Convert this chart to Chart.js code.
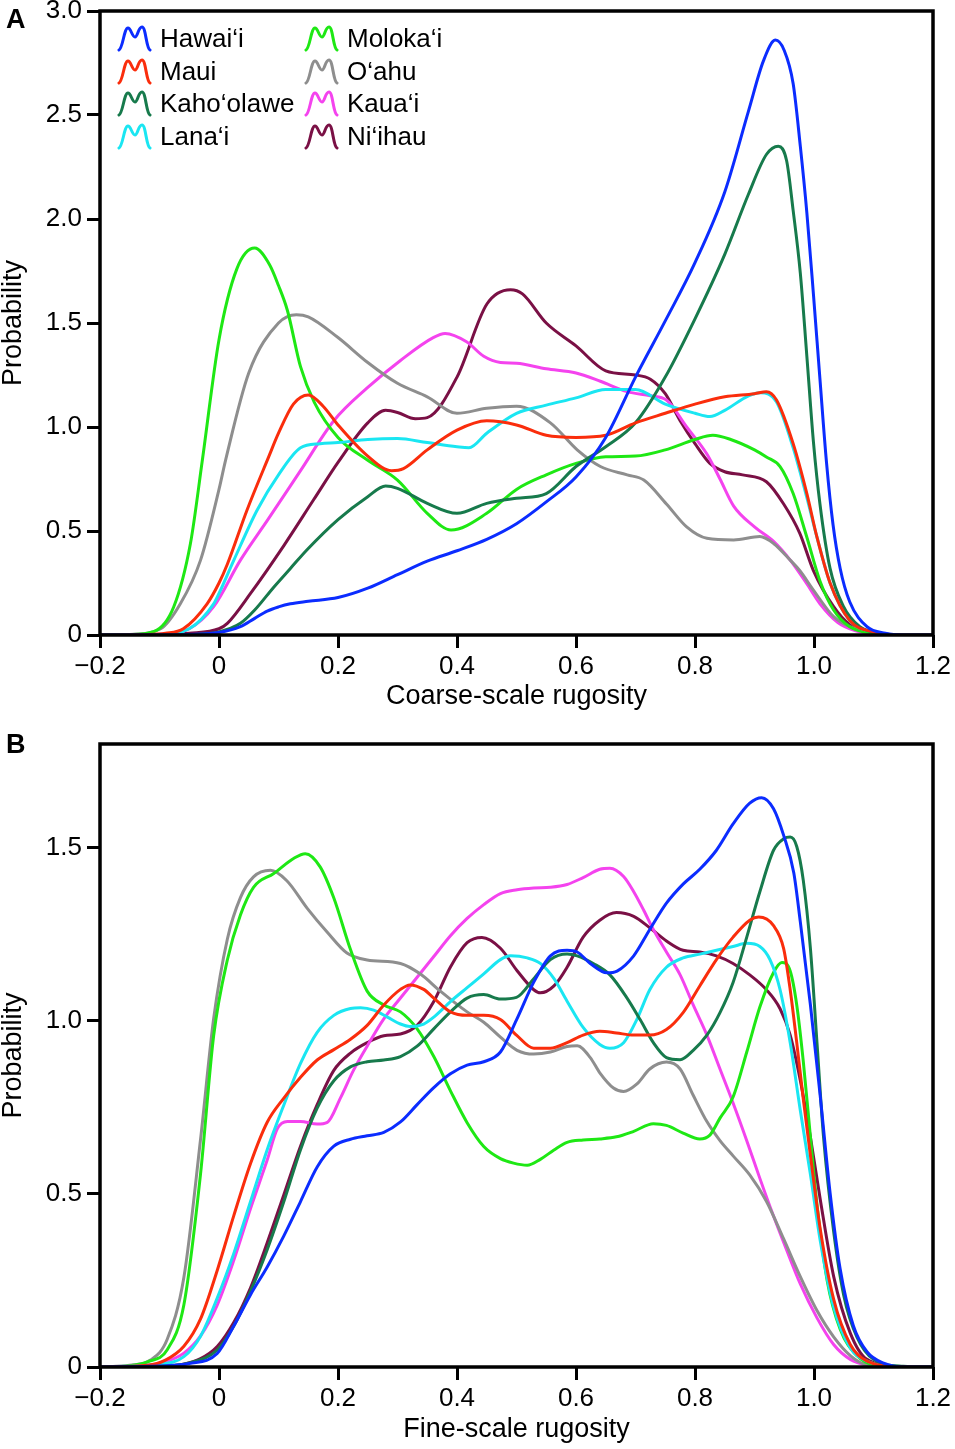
<!DOCTYPE html>
<html>
<head>
<meta charset="utf-8">
<script src="https://cdn.jsdelivr.net/npm/chart.js@4.4.1/dist/chart.umd.min.js"></script>
<style>
  html, body { margin: 0; padding: 0; background: #fff; }
  #page { position: relative; width: 955px; height: 1449px; overflow: hidden; background: #fff; font-family: "Liberation Sans", Arial, sans-serif; }
  canvas { position: absolute; left: 0; }
  .panel { position: absolute; font-weight: bold; font-size: 27px; line-height: 27px; color: #000; }
  .leg { position: absolute; display: flex; align-items: center; height: 30px; font-size: 26px; color: #000; white-space: nowrap; }
  .leg svg { margin-right: 8px; }
</style>
</head>
<body>
<div id="page">
  <canvas id="chartA" width="955" height="725" style="top:0px;width:955px;height:725px"></canvas>
  <canvas id="chartB" width="955" height="724" style="top:725px;width:955px;height:724px"></canvas>
  <div class="panel" style="left:6px;top:6px">A</div>
  <div class="panel" style="left:6px;top:731px">B</div>
  <div id="legend"></div>
</div>
<script>
// ---------- labels ----------
const islands = ['Hawai\u2018i', 'Maui', 'Kaho\u2018olawe', 'Lana\u2018i', 'Moloka\u2018i', 'O\u2018ahu', 'Kaua\u2018i', 'Ni\u2018ihau'];
const xTickValues = [-0.2, 0, 0.2, 0.4, 0.6, 0.8, 1.0, 1.2];
const xTickLabels = ['\u22120.2', '0', '0.2', '0.4', '0.6', '0.8', '1.0', '1.2'];
const yTickValuesA = [0, 0.5, 1.0, 1.5, 2.0, 2.5, 3.0];
const yTickLabelsA = ['0', '0.5', '1.0', '1.5', '2.0', '2.5', '3.0'];
const yTickValuesB = [0, 0.5, 1.0, 1.5];
const yTickLabelsB = ['0', '0.5', '1.0', '1.5'];
const xTitleA = 'Coarse-scale rugosity';
const xTitleB = 'Fine-scale rugosity';
const yTitle = 'Probability';

// ---------- panel A: coarse-scale rugosity, [x, probability] ----------
const coarseHawaii = [[-0.2,0],[-0.1,0],[-0.05,0.002],[0,0.012],[0.036,0.04],[0.06,0.08],[0.081,0.115],[0.1,0.135],[0.12,0.15],[0.15,0.162],[0.2,0.18],[0.25,0.225],[0.3,0.29],[0.35,0.355],[0.4,0.405],[0.45,0.46],[0.5,0.535],[0.55,0.64],[0.6,0.76],[0.65,0.95],[0.7,1.24],[0.75,1.51],[0.8,1.79],[0.85,2.13],[0.89,2.52],[0.915,2.76],[0.935,2.86],[0.95,2.81],[0.965,2.65],[0.977,2.35],[0.988,2.03],[0.999,1.64],[1.01,1.23],[1.021,0.83],[1.032,0.53],[1.044,0.32],[1.06,0.16],[1.089,0.04],[1.12,0.008],[1.15,0],[1.2,0]];
const coarseMaui = [[-0.2,0],[-0.12,0.002],[-0.09,0.008],[-0.06,0.03],[-0.02,0.15],[0,0.25],[0.014,0.34],[0.047,0.6],[0.084,0.86],[0.1,0.97],[0.125,1.11],[0.15,1.154],[0.175,1.1],[0.2,1.01],[0.25,0.86],[0.29,0.79],[0.31,0.8],[0.35,0.89],[0.4,0.985],[0.45,1.03],[0.5,1.01],[0.55,0.96],[0.6,0.95],[0.65,0.96],[0.7,1.02],[0.75,1.066],[0.8,1.11],[0.85,1.145],[0.9,1.16],[0.92,1.17],[0.937,1.13],[0.965,0.92],[0.988,0.68],[1.005,0.47],[1.027,0.25],[1.06,0.07],[1.1,0.015],[1.15,0],[1.2,0]];
const coarseKahoolawe = [[-0.2,0],[-0.1,0],[-0.05,0.002],[0,0.015],[0.036,0.056],[0.06,0.12],[0.092,0.23],[0.12,0.32],[0.148,0.41],[0.2,0.555],[0.25,0.665],[0.28,0.716],[0.3,0.705],[0.35,0.633],[0.4,0.585],[0.45,0.633],[0.5,0.657],[0.55,0.68],[0.6,0.81],[0.65,0.905],[0.7,1.02],[0.75,1.24],[0.8,1.52],[0.85,1.83],[0.89,2.12],[0.92,2.31],[0.94,2.35],[0.954,2.28],[0.965,2.04],[0.977,1.74],[0.988,1.34],[0.999,0.93],[1.01,0.63],[1.027,0.32],[1.049,0.14],[1.077,0.04],[1.11,0.008],[1.15,0],[1.2,0]];
const coarseLanai = [[-0.2,0],[-0.1,0.003],[-0.05,0.03],[-0.009,0.15],[0,0.2],[0.025,0.36],[0.064,0.6],[0.1,0.77],[0.137,0.9],[0.17,0.92],[0.2,0.925],[0.25,0.94],[0.3,0.945],[0.35,0.925],[0.4,0.905],[0.42,0.9],[0.45,0.97],[0.5,1.066],[0.55,1.105],[0.6,1.14],[0.65,1.18],[0.7,1.18],[0.75,1.11],[0.8,1.066],[0.825,1.05],[0.85,1.08],[0.89,1.15],[0.91,1.165],[0.937,1.12],[0.965,0.9],[0.988,0.66],[1.005,0.47],[1.027,0.25],[1.06,0.07],[1.1,0.015],[1.15,0],[1.2,0]];
const coarseMolokai = [[-0.2,0],[-0.15,0.002],[-0.11,0.016],[-0.076,0.136],[-0.048,0.44],[-0.028,0.84],[0,1.42],[0.03,1.76],[0.06,1.86],[0.085,1.78],[0.1,1.68],[0.115,1.56],[0.137,1.29],[0.16,1.12],[0.2,0.95],[0.25,0.84],[0.3,0.745],[0.35,0.585],[0.39,0.505],[0.45,0.585],[0.5,0.7],[0.55,0.77],[0.6,0.825],[0.65,0.857],[0.7,0.86],[0.75,0.89],[0.8,0.94],[0.83,0.96],[0.86,0.94],[0.9,0.89],[0.92,0.856],[0.943,0.81],[0.965,0.68],[0.988,0.47],[1.01,0.26],[1.033,0.12],[1.06,0.04],[1.1,0.008],[1.15,0],[1.2,0]];
const coarseOahu = [[-0.2,0],[-0.15,0.003],[-0.098,0.03],[-0.065,0.15],[-0.031,0.36],[0,0.7],[0.011,0.84],[0.05,1.26],[0.1,1.5],[0.13,1.54],[0.15,1.53],[0.2,1.43],[0.25,1.31],[0.3,1.21],[0.35,1.145],[0.4,1.066],[0.45,1.09],[0.5,1.1],[0.557,1.02],[0.602,0.89],[0.641,0.81],[0.686,0.77],[0.714,0.745],[0.752,0.63],[0.786,0.52],[0.82,0.465],[0.865,0.457],[0.909,0.473],[0.932,0.44],[0.96,0.36],[0.976,0.31],[0.999,0.216],[1.033,0.088],[1.06,0.04],[1.1,0.008],[1.15,0],[1.2,0]];
const coarseKauai = [[-0.2,0],[-0.1,0.004],[-0.05,0.03],[-0.009,0.136],[0.036,0.36],[0.081,0.55],[0.137,0.79],[0.193,1.03],[0.25,1.19],[0.305,1.32],[0.36,1.43],[0.38,1.45],[0.416,1.41],[0.445,1.34],[0.473,1.31],[0.5,1.306],[0.55,1.28],[0.6,1.26],[0.641,1.22],[0.686,1.17],[0.725,1.15],[0.752,1.13],[0.786,1.0],[0.82,0.87],[0.842,0.75],[0.865,0.62],[0.9,0.52],[0.932,0.45],[0.96,0.36],[0.987,0.25],[1.01,0.15],[1.04,0.06],[1.07,0.02],[1.1,0.005],[1.15,0],[1.2,0]];
const coarseNiihau = [[-0.2,0],[-0.1,0.001],[-0.05,0.008],[0,0.03],[0.014,0.056],[0.053,0.2],[0.109,0.43],[0.159,0.65],[0.2,0.83],[0.25,1.02],[0.28,1.08],[0.3,1.07],[0.33,1.04],[0.35,1.045],[0.4,1.24],[0.45,1.59],[0.49,1.66],[0.51,1.64],[0.55,1.5],[0.6,1.39],[0.65,1.27],[0.7,1.25],[0.725,1.23],[0.75,1.16],[0.775,1.03],[0.8,0.92],[0.825,0.825],[0.85,0.785],[0.88,0.77],[0.92,0.737],[0.949,0.63],[0.976,0.49],[0.999,0.31],[1.033,0.136],[1.06,0.05],[1.1,0.01],[1.15,0],[1.2,0]];

// ---------- panel B: fine-scale rugosity, [x, probability] ----------
const fineHawaii = [[-0.2,0],[-0.1,0.003],[-0.05,0.01],[-0.003,0.039],[0.025,0.119],[0.053,0.209],[0.081,0.289],[0.109,0.379],[0.137,0.478],[0.165,0.578],[0.193,0.638],[0.221,0.658],[0.249,0.668],[0.277,0.678],[0.305,0.708],[0.333,0.758],[0.361,0.807],[0.389,0.847],[0.417,0.872],[0.445,0.882],[0.473,0.91],[0.5,1.003],[0.529,1.112],[0.557,1.188],[0.585,1.204],[0.602,1.199],[0.624,1.166],[0.652,1.139],[0.669,1.144],[0.697,1.188],[0.724,1.264],[0.752,1.34],[0.78,1.395],[0.808,1.438],[0.836,1.493],[0.864,1.569],[0.892,1.629],[0.912,1.645],[0.932,1.613],[0.949,1.536],[0.966,1.428],[0.977,1.286],[0.994,1.046],[1.011,0.774],[1.027,0.504],[1.044,0.283],[1.066,0.12],[1.089,0.044],[1.117,0.011],[1.15,0],[1.2,0]];
const fineMaui = [[-0.2,0],[-0.12,0.005],[-0.09,0.02],[-0.059,0.06],[-0.031,0.139],[-0.003,0.279],[0.025,0.438],[0.053,0.588],[0.081,0.707],[0.109,0.777],[0.137,0.837],[0.165,0.887],[0.193,0.917],[0.221,0.947],[0.249,0.987],[0.277,1.046],[0.305,1.091],[0.321,1.104],[0.344,1.091],[0.361,1.066],[0.389,1.026],[0.417,1.016],[0.445,1.016],[0.473,1.004],[0.5,0.959],[0.529,0.921],[0.557,0.921],[0.585,0.937],[0.612,0.959],[0.64,0.97],[0.668,0.965],[0.697,0.959],[0.724,0.959],[0.752,0.975],[0.78,1.024],[0.808,1.101],[0.836,1.177],[0.864,1.242],[0.892,1.291],[0.907,1.3],[0.932,1.275],[0.949,1.209],[0.96,1.09],[0.971,0.937],[0.982,0.774],[0.994,0.611],[1.011,0.393],[1.033,0.196],[1.061,0.065],[1.089,0.017],[1.15,0],[1.2,0]];
const fineKahoolawe = [[-0.2,0],[-0.1,0.002],[-0.05,0.012],[-0.003,0.049],[0.025,0.119],[0.053,0.219],[0.081,0.339],[0.109,0.478],[0.137,0.628],[0.165,0.748],[0.193,0.827],[0.221,0.867],[0.249,0.882],[0.277,0.887],[0.305,0.897],[0.333,0.927],[0.361,0.977],[0.389,1.026],[0.417,1.066],[0.445,1.076],[0.473,1.063],[0.5,1.068],[0.529,1.122],[0.557,1.177],[0.585,1.193],[0.602,1.188],[0.629,1.166],[0.657,1.133],[0.685,1.068],[0.708,1.003],[0.73,0.937],[0.752,0.894],[0.775,0.888],[0.797,0.915],[0.82,0.959],[0.842,1.024],[0.864,1.111],[0.887,1.242],[0.909,1.373],[0.932,1.493],[0.949,1.526],[0.96,1.531],[0.971,1.504],[0.982,1.406],[0.994,1.209],[1.005,0.937],[1.016,0.665],[1.033,0.392],[1.05,0.207],[1.072,0.087],[1.1,0.022],[1.15,0.002],[1.2,0]];
const fineLanai = [[-0.2,0],[-0.1,0.008],[-0.059,0.03],[-0.031,0.089],[-0.003,0.199],[0.025,0.329],[0.053,0.478],[0.081,0.628],[0.109,0.757],[0.137,0.877],[0.165,0.967],[0.193,1.016],[0.221,1.036],[0.238,1.038],[0.26,1.031],[0.283,1.011],[0.305,0.991],[0.321,0.984],[0.344,0.991],[0.361,1.011],[0.389,1.056],[0.417,1.096],[0.445,1.136],[0.473,1.177],[0.49,1.188],[0.518,1.182],[0.54,1.166],[0.563,1.122],[0.585,1.057],[0.612,0.981],[0.64,0.932],[0.657,0.921],[0.68,0.937],[0.702,1.003],[0.724,1.09],[0.752,1.155],[0.78,1.182],[0.808,1.193],[0.836,1.204],[0.864,1.215],[0.887,1.224],[0.909,1.215],[0.926,1.177],[0.943,1.09],[0.96,0.937],[0.977,0.741],[0.994,0.556],[1.011,0.36],[1.033,0.174],[1.061,0.055],[1.089,0.017],[1.15,0],[1.2,0]];
const fineMolokai = [[-0.2,0],[-0.15,0.004],[-0.12,0.015],[-0.087,0.05],[-0.059,0.18],[-0.031,0.558],[-0.009,0.957],[0.014,1.176],[0.036,1.306],[0.058,1.386],[0.092,1.426],[0.126,1.47],[0.145,1.483],[0.17,1.445],[0.193,1.355],[0.221,1.206],[0.249,1.086],[0.277,1.046],[0.305,1.026],[0.333,0.977],[0.361,0.897],[0.389,0.798],[0.417,0.706],[0.445,0.637],[0.473,0.602],[0.495,0.589],[0.518,0.583],[0.54,0.6],[0.563,0.627],[0.585,0.649],[0.612,0.656],[0.64,0.659],[0.668,0.665],[0.697,0.681],[0.73,0.703],[0.752,0.698],[0.78,0.676],[0.808,0.659],[0.825,0.67],[0.842,0.719],[0.864,0.78],[0.887,0.91],[0.909,1.04],[0.932,1.14],[0.946,1.169],[0.96,1.144],[0.971,1.046],[0.982,0.883],[0.994,0.665],[1.005,0.469],[1.022,0.251],[1.044,0.109],[1.072,0.033],[1.1,0.006],[1.15,0],[1.2,0]];
const fineOahu = [[-0.2,0],[-0.15,0.005],[-0.115,0.02],[-0.087,0.08],[-0.059,0.259],[-0.031,0.658],[-0.009,1.006],[0.014,1.236],[0.036,1.356],[0.058,1.416],[0.0865,1.435],[0.114,1.405],[0.148,1.326],[0.182,1.256],[0.215,1.196],[0.249,1.176],[0.305,1.166],[0.338,1.136],[0.372,1.086],[0.417,1.026],[0.445,0.996],[0.473,0.953],[0.501,0.915],[0.529,0.904],[0.557,0.91],[0.585,0.926],[0.602,0.928],[0.624,0.894],[0.64,0.85],[0.663,0.806],[0.68,0.796],[0.702,0.817],[0.724,0.861],[0.752,0.881],[0.775,0.861],[0.797,0.785],[0.82,0.709],[0.842,0.654],[0.864,0.61],[0.892,0.555],[0.92,0.479],[0.949,0.37],[0.977,0.261],[1.005,0.163],[1.033,0.087],[1.061,0.033],[1.089,0.006],[1.15,0],[1.2,0]];
const fineKauai = [[-0.2,0],[-0.12,0.005],[-0.09,0.015],[-0.059,0.04],[-0.031,0.09],[-0.003,0.179],[0.025,0.309],[0.053,0.458],[0.081,0.598],[0.098,0.688],[0.115,0.709],[0.137,0.709],[0.165,0.702],[0.182,0.707],[0.204,0.777],[0.226,0.857],[0.249,0.927],[0.277,1.006],[0.305,1.066],[0.333,1.126],[0.361,1.186],[0.389,1.246],[0.417,1.296],[0.445,1.336],[0.473,1.368],[0.501,1.379],[0.529,1.384],[0.557,1.386],[0.585,1.394],[0.612,1.414],[0.64,1.438],[0.657,1.441],[0.68,1.417],[0.697,1.373],[0.714,1.319],[0.73,1.264],[0.752,1.199],[0.775,1.133],[0.797,1.046],[0.82,0.959],[0.842,0.861],[0.864,0.763],[0.887,0.654],[0.909,0.545],[0.932,0.436],[0.954,0.338],[0.977,0.24],[1.005,0.142],[1.033,0.065],[1.061,0.022],[1.089,0.006],[1.15,0],[1.2,0]];
const fineNiihau = [[-0.2,0],[-0.1,0.002],[-0.06,0.008],[-0.031,0.024],[-0.003,0.059],[0.025,0.129],[0.053,0.229],[0.081,0.359],[0.109,0.498],[0.137,0.638],[0.165,0.758],[0.193,0.857],[0.221,0.907],[0.249,0.937],[0.277,0.957],[0.305,0.962],[0.333,0.987],[0.361,1.056],[0.389,1.156],[0.417,1.226],[0.442,1.241],[0.473,1.21],[0.501,1.145],[0.529,1.09],[0.54,1.081],[0.563,1.101],[0.585,1.155],[0.612,1.242],[0.64,1.291],[0.668,1.313],[0.697,1.302],[0.724,1.269],[0.752,1.231],[0.78,1.204],[0.808,1.199],[0.836,1.188],[0.864,1.166],[0.892,1.133],[0.92,1.09],[0.943,1.035],[0.96,0.959],[0.977,0.828],[0.994,0.664],[1.011,0.479],[1.033,0.262],[1.061,0.098],[1.089,0.022],[1.15,0],[1.2,0]];

const coarseSeries = [coarseHawaii, coarseMaui, coarseKahoolawe, coarseLanai, coarseMolokai, coarseOahu, coarseKauai, coarseNiihau];
const fineSeries = [fineHawaii, fineMaui, fineKahoolawe, fineLanai, fineMolokai, fineOahu, fineKauai, fineNiihau];

// ---------- styles ----------
const colors = ['#0b2cff', '#fa2d0c', '#177a4c', '#1ae6f2', '#1ee814', '#8e8e8e', '#f443ee', '#7a1045'];
const FONT = '"Liberation Sans", Arial, sans-serif';

const frame = {
  id: 'frame',
  afterDatasetsDraw(chart) {
    const a = chart.chartArea, ctx = chart.ctx;
    ctx.save();
    ctx.strokeStyle = '#000';
    ctx.lineWidth = 3.5;
    ctx.strokeRect(a.left, a.top, a.right - a.left, a.bottom - a.top);
    ctx.restore();
  }
};

function labelFor(values, labels) {
  return v => {
    const i = values.findIndex(t => Math.abs(t - v) < 1e-9);
    return i >= 0 ? labels[i] : '';
  };
}

function makeChart(id, series, yMax, yVals, yLabels, xTitle, padTop, xAxisHeight, titlePadBottom) {
  const datasets = islands.map((name, i) => ({
    label: name,
    data: series[i].map(([x, y]) => ({ x, y })),
    borderColor: colors[i],
    backgroundColor: colors[i],
    borderWidth: 3,
    pointRadius: 0,
    fill: false,
    cubicInterpolationMode: 'monotone'
  }));
  const tickGrid = { display: true, drawOnChartArea: false, drawTicks: true, tickLength: 13, tickWidth: 3, tickColor: '#000' };
  return new Chart(document.getElementById(id), {
    type: 'line',
    data: { datasets },
    options: {
      responsive: false,
      animation: false,
      devicePixelRatio: 1,
      layout: { padding: { top: padTop, right: 22, left: 0, bottom: 0 } },
      plugins: { legend: { display: false }, tooltip: { enabled: false } },
      scales: {
        x: {
          type: 'linear', min: -0.2, max: 1.2,
          afterBuildTicks: s => { s.ticks = xTickValues.map(v => ({ value: v })); },
          ticks: { callback: labelFor(xTickValues, xTickLabels), color: '#000', font: { family: FONT, size: 26 }, padding: 3, maxRotation: 0, autoSkip: false },
          grid: tickGrid,
          border: { display: false },
          title: { display: true, text: xTitle, color: '#000', font: { family: FONT, size: 27 }, padding: { top: 0, bottom: titlePadBottom } },
          afterFit: s => { s.height = xAxisHeight; s.paddingLeft = 0; s.paddingRight = 0; }
        },
        y: {
          type: 'linear', min: 0, max: yMax,
          afterBuildTicks: s => { s.ticks = yVals.map(v => ({ value: v })); },
          ticks: { callback: labelFor(yVals, yLabels), color: '#000', font: { family: FONT, size: 26 }, padding: 5, autoSkip: false },
          grid: tickGrid,
          border: { display: false },
          title: { display: true, text: yTitle, color: '#000', font: { family: FONT, size: 27, lineHeight: 1 }, padding: { top: 0, bottom: 0 } },
          afterFit: s => { s.width = 100; s.paddingTop = 0; s.paddingBottom = 0; }
        }
      }
    },
    plugins: [frame]
  });
}

makeChart('chartA', coarseSeries, 3.0, yTickValuesA, yTickLabelsA, xTitleA, 11, 90, 12);
makeChart('chartB', fineSeries, 1.8, yTickValuesB, yTickLabelsB, xTitleB, 19, 82, 3);

// ---------- legend (HTML, inside panel A) ----------
const legendPos = [[117, 23], [117, 56], [117, 88], [117, 121], [304, 23], [304, 56], [304, 88], [304, 121]];
const legend = document.getElementById('legend');
islands.forEach((name, i) => {
  const item = document.createElement('div');
  item.className = 'leg';
  item.style.left = legendPos[i][0] + 'px';
  item.style.top = legendPos[i][1] + 'px';
  item.innerHTML = '<svg width="35" height="28" viewBox="0 0 35 28"><path d="M2,26 C6,24 7,4 11,4 C14,4 15,13 18,13 C21,13 21,3 25,3 C29,3 29,24 33,26" fill="none" stroke="' + colors[i] + '" stroke-width="3" stroke-linecap="round"/></svg><span>' + name + '</span>';
  legend.appendChild(item);
});
</script>
</body>
</html>
